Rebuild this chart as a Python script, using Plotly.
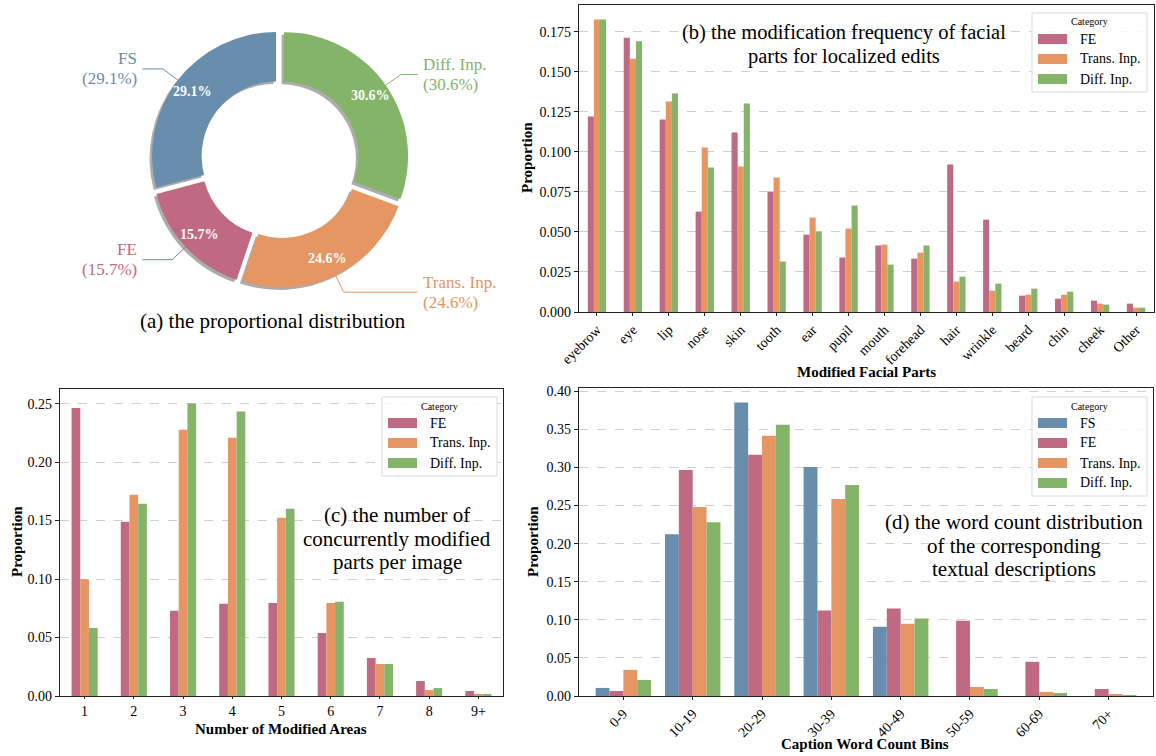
import math
import plotly.graph_objects as go

W, H = 1156, 756

# ---------------- data ----------------
pie_labels = ["FS", "FE", "Trans. Inp.", "Diff. Inp."]
pie_values = [29.1, 15.7, 24.6, 30.6]

parts = ["eyebrow", "eye", "lip", "nose", "skin", "tooth", "ear", "pupil", "mouth",
         "forehead", "hair", "wrinkle", "beard", "chin", "cheek", "Other"]
parts_fe = [0.1221, 0.1712, 0.1202, 0.0627, 0.1121, 0.0752, 0.0483, 0.0340, 0.0415,
            0.0333, 0.0921, 0.0577, 0.0102, 0.0083, 0.0071, 0.0052]
parts_trans = [0.1827, 0.1581, 0.1315, 0.1027, 0.0908, 0.0840, 0.0590, 0.0521, 0.0421,
               0.0371, 0.0190, 0.0133, 0.0108, 0.0108, 0.0052, 0.0027]
parts_diff = [0.1827, 0.1690, 0.1365, 0.0902, 0.1302, 0.0315, 0.0502, 0.0665, 0.0296,
              0.0415, 0.0221, 0.0177, 0.0146, 0.0127, 0.0046, 0.0027]

areas = ["1", "2", "3", "4", "5", "6", "7", "8", "9+"]
areas_fe = [0.2463, 0.1490, 0.0728, 0.0788, 0.0796, 0.0539, 0.0325, 0.0128, 0.0043]
areas_trans = [0.0999, 0.1721, 0.2277, 0.2209, 0.1524, 0.0796, 0.0274, 0.0051, 0.0009]
areas_diff = [0.0582, 0.1644, 0.2500, 0.2432, 0.1601, 0.0805, 0.0274, 0.0068, 0.0009]

bins = ["0-9", "10-19", "20-29", "30-39", "40-49", "50-59", "60-69", "70+"]
bins_fs = [0.0106, 0.2124, 0.3852, 0.3008, 0.0910, 0.0, 0.0, 0.0]
bins_fe = [0.0066, 0.2968, 0.3166, 0.1121, 0.1148, 0.0989, 0.0449, 0.0092]
bins_trans = [0.0343, 0.2480, 0.3417, 0.2586, 0.0950, 0.0119, 0.0053, 0.0026]
bins_diff = [0.0211, 0.2282, 0.3562, 0.2770, 0.1016, 0.0092, 0.0040, 0.0013]

# ---------------- style ----------------
COLORS = {"FS": "#688dad", "FE": "#c06983", "Trans. Inp.": "#e59663", "Diff. Inp.": "#83b468"}
SERIF = "Liberation Serif, Times New Roman, serif"


def px(x):
    return x / W


def py(y):
    return 1 - y / H


fig = go.Figure()
annotations = []
shapes = []

# ---------------- (a) donut ----------------
CX, CY, R, PULL, HOLE = 280, 159, 124, 0.04, 0.6
half = R * (1 + PULL)
SH = 2.5  # shadow offset (px)
total = sum(pie_values)
ROT = -360 * pie_values[0] / total

fig.add_trace(go.Pie(
    values=pie_values, sort=False, direction="counterclockwise",
    rotation=ROT, hole=HOLE, pull=[PULL] * len(pie_values),
    marker=dict(colors=["rgba(70,70,70,0.45)"] * len(pie_values), line=dict(width=0)),
    textinfo="none", hoverinfo="skip", showlegend=False,
    domain=dict(x=[px(CX - half - SH), px(CX + half - SH)], y=[py(CY + half + SH), py(CY - half + SH)]),
))
fig.add_trace(go.Pie(
    labels=pie_labels, values=pie_values, sort=False, direction="counterclockwise",
    rotation=ROT, hole=HOLE, pull=[PULL] * len(pie_values),
    marker=dict(colors=[COLORS[l] for l in pie_labels], line=dict(width=0)),
    textinfo="none", hoverinfo="skip", showlegend=False,
    domain=dict(x=[px(CX - half), px(CX + half)], y=[py(CY + half), py(CY - half)]),
))

cum = 0.0
for lab, v in zip(pie_labels, pie_values):
    mid = math.radians(90 + 360 * (cum + v / 2) / total)
    cum += v
    pct = f"{100 * v / total:.1f}%"
    c, s = math.cos(mid), math.sin(mid)
    rin = 0.85 * R + PULL * R
    annotations.append(dict(x=px(CX + rin * c), y=py(CY - rin * s), xref="paper", yref="paper",
                            text=f"<b>{pct}</b>", showarrow=False,
                            font=dict(family=SERIF, size=14, color="white"),
                            xanchor="center", yanchor="middle"))
    sign = 1 if c >= 0 else -1
    yt = 1.19 * R * s
    rc = 1.19 * R
    re_ = R * (1 + PULL)
    x0 = CX + sign * 1.11 * R
    xc = CX + rc * c
    shapes.append(dict(type="path", xref="paper", yref="paper",
                       path=f"M {px(x0)},{py(CY - yt)} L {px(xc)},{py(CY - yt)} "
                            f"L {px(CX + re_ * c)},{py(CY - re_ * s)}",
                       line=dict(color=COLORS[lab], width=1)))
    xtext = CX + sign * 1.135 * R
    anchor = "left" if sign > 0 else "right"
    annotations.append(dict(x=px(xtext), y=py(CY - yt - 10), xref="paper", yref="paper",
                            text=lab, showarrow=False, xanchor=anchor, yanchor="middle",
                            font=dict(family=SERIF, size=17, color=COLORS[lab])))
    annotations.append(dict(x=px(xtext), y=py(CY - yt + 10), xref="paper", yref="paper",
                            text=f"({pct})", showarrow=False, xanchor=anchor, yanchor="middle",
                            font=dict(family=SERIF, size=17, color=COLORS[lab])))


# ---------------- helpers ----------------
def add_group(xcats, series, xa, ya, group_w):
    n = len(series)
    w = group_w / n
    for i, (name, vals) in enumerate(series):
        fig.add_trace(go.Bar(x=xcats, y=vals, name=name, marker_color=COLORS[name],
                             marker_line_width=0, width=w, offset=-group_w / 2 + i * w,
                             xaxis=xa, yaxis=ya, showlegend=False, hoverinfo="skip"))


def add_legend(left, top, names):
    n = len(names)
    bottom = top + 26 + 20 * (n - 1) + 13
    shapes.append(dict(type="rect", xref="paper", yref="paper",
                       x0=px(left), x1=px(left + 115), y0=py(bottom), y1=py(top),
                       line=dict(color="#d9d9d9", width=1), fillcolor="rgba(255,255,255,0.85)",
                       layer="above"))
    annotations.append(dict(x=px(left + 57.5), y=py(top + 9), xref="paper", yref="paper",
                            text="Category", showarrow=False, xanchor="center", yanchor="middle",
                            font=dict(family=SERIF, size=10, color="black")))
    for i, name in enumerate(names):
        yc = top + 26 + 20 * i
        shapes.append(dict(type="rect", xref="paper", yref="paper",
                           x0=px(left + 6), x1=px(left + 35), y0=py(yc + 5), y1=py(yc - 5),
                           line=dict(width=0), fillcolor=COLORS[name], layer="above"))
        annotations.append(dict(x=px(left + 46), y=py(yc), xref="paper", yref="paper",
                                text=name, showarrow=False, xanchor="left", yanchor="middle",
                                font=dict(family=SERIF, size=14, color="black")))


def text_block(x, y_first, lines, size=21, spacing=23.5):
    for i, ln in enumerate(lines):
        annotations.append(dict(x=px(x), y=py(y_first + i * spacing), xref="paper", yref="paper",
                                text=ln, showarrow=False, xanchor="center", yanchor="middle",
                                font=dict(family=SERIF, size=size, color="black")))


def axis_title(x, y, txt, rot=0):
    annotations.append(dict(x=px(x), y=py(y), xref="paper", yref="paper", text=f"<b>{txt}</b>",
                            showarrow=False, xanchor="center", yanchor="middle", textangle=rot,
                            font=dict(family=SERIF, size=15, color="black")))


# ---------------- bars ----------------
add_group(parts, [("FE", parts_fe), ("Trans. Inp.", parts_trans), ("Diff. Inp.", parts_diff)],
          "x", "y", 0.51)
add_group(areas, [("FE", areas_fe), ("Trans. Inp.", areas_trans), ("Diff. Inp.", areas_diff)],
          "x2", "y2", 0.53)
add_group(bins, [("FS", bins_fs), ("FE", bins_fe), ("Trans. Inp.", bins_trans),
                 ("Diff. Inp.", bins_diff)], "x3", "y3", 0.8)

common_x = dict(type="category", showline=True, mirror=True, linecolor="#222", linewidth=1.3,
                ticks="outside", ticklen=3, tickcolor="#222", showgrid=False, zeroline=False,
                automargin=False, tickfont=dict(family=SERIF, size=14, color="black"))
common_y = dict(showline=True, mirror=True, linecolor="#222", linewidth=1.3,
                ticks="outside", ticklen=4, tickcolor="#222", showgrid=True,
                gridcolor="#cfcfcf", griddash="dash", gridwidth=1, zeroline=False,
                automargin=False, tickfont=dict(family=SERIF, size=14, color="black"))

fig.update_layout(
    template="none",
    width=W, height=H, margin=dict(l=0, r=0, t=0, b=0, pad=0), autosize=False,
    paper_bgcolor="white", plot_bgcolor="white", barmode="overlay",
    xaxis=dict(common_x, domain=[px(579), px(1154)], anchor="y", range=[-0.5, 15.5], tickangle=-45),
    yaxis=dict(common_y, domain=[py(312), py(5)], anchor="x", range=[0, 0.1917], dtick=0.025,
               tickformat=".3f"),
    xaxis2=dict(common_x, domain=[px(60), px(503)], anchor="y2", range=[-0.5, 8.5], tickangle=0,
                ticklen=2),
    yaxis2=dict(common_y, domain=[py(696), py(389)], anchor="x2", range=[0, 0.2625], dtick=0.05,
                tickformat=".2f"),
    xaxis3=dict(common_x, domain=[px(579), px(1153)], anchor="y3", range=[-0.64, 7.64], tickangle=-45),
    yaxis3=dict(common_y, domain=[py(696), py(388)], anchor="x3", range=[0, 0.4044], dtick=0.05,
                tickformat=".2f"),
)

text_block(273, 321, ["(a) the proportional distribution"])
text_block(844, 33, ["(b) the modification frequency of facial", "parts for localized edits"],
           size=20.5)
text_block(397, 515, ["(c) the number of", "concurrently modified", "parts per image"])
text_block(1014, 522, ["(d) the word count distribution", "of the corresponding",
                       "textual descriptions"])

axis_title(527, 158, "Proportion", -90)
axis_title(866, 372, "Modified Facial Parts")
axis_title(17, 542, "Proportion", -90)
axis_title(281, 729, "Number of Modified Areas")
axis_title(533, 542, "Proportion", -90)
axis_title(865, 744, "Caption Word Count Bins")

add_legend(1032, 13, ["FE", "Trans. Inp.", "Diff. Inp."])
add_legend(382, 397, ["FE", "Trans. Inp.", "Diff. Inp."])
add_legend(1032, 397, ["FS", "FE", "Trans. Inp.", "Diff. Inp."])

fig.update_layout(annotations=annotations, shapes=shapes)
fig.write_html("out.html", config={"displayModeBar": False},
               post_script="document.body.style.margin='0px';")
